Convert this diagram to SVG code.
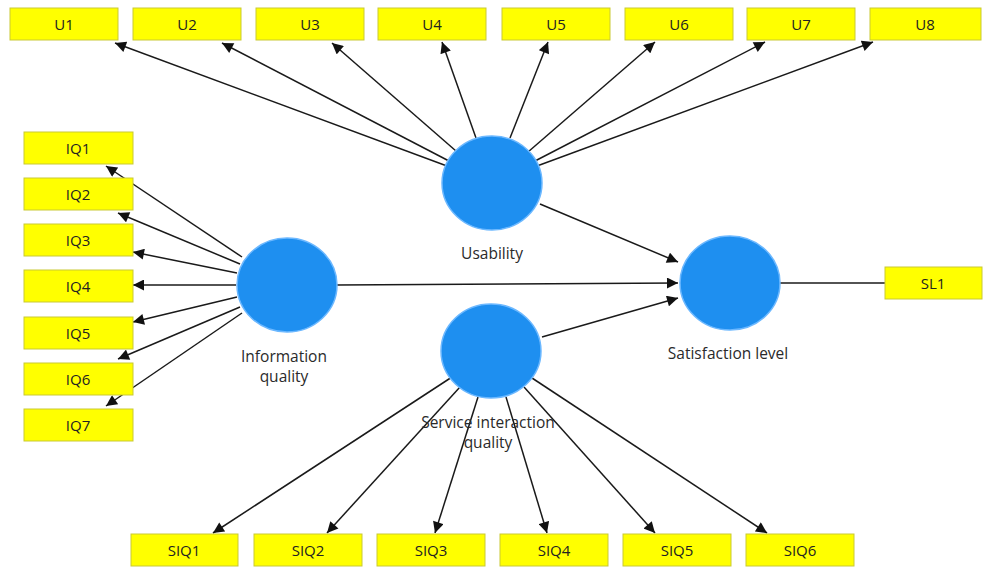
<svg xmlns="http://www.w3.org/2000/svg" width="984" height="568" viewBox="0 0 984 568">
<style>
.box{fill:#ffff00;stroke:#c9c934;stroke-width:1}
.bt{font-family:"Open Sans","Noto Sans",sans-serif;font-size:15px;fill:#222;text-anchor:middle}
.lv{fill:#1e8ff0;stroke:#6cb8ff;stroke-width:1.5}
.lt{font-family:"Open Sans","Noto Sans",sans-serif;font-size:15.5px;fill:#2a2a2a;text-anchor:middle}
.c{stroke:#1a1a1a;stroke-width:1.5;fill:none}
.a{marker-end:url(#ah)}
</style>
<defs>
<marker id="ah" viewBox="0 0 10 10" refX="10" refY="5" markerWidth="12" markerHeight="11" markerUnits="userSpaceOnUse" orient="auto">
<path d="M0,0 L10,5 L0,10 z" fill="#111"/>
</marker>
</defs>
<rect width="984" height="568" fill="#fff"/>
<g id="connectors">
<line class="c a" x1="447" y1="166" x2="115" y2="43"/>
<line class="c a" x1="449" y1="161" x2="222" y2="43"/>
<line class="c a" x1="456" y1="151" x2="332" y2="43"/>
<line class="c a" x1="476" y1="138" x2="442" y2="42"/>
<line class="c a" x1="510" y1="138" x2="548" y2="42"/>
<line class="c a" x1="528" y1="152" x2="655" y2="42"/>
<line class="c a" x1="535" y1="161" x2="765" y2="42"/>
<line class="c a" x1="537" y1="166" x2="873" y2="42"/>
<line class="c a" x1="242" y1="257" x2="106" y2="166"/>
<line class="c a" x1="240" y1="264" x2="118" y2="213"/>
<line class="c a" x1="237" y1="273" x2="133" y2="252"/>
<line class="c a" x1="236" y1="285" x2="133" y2="285"/>
<line class="c a" x1="237" y1="297" x2="133" y2="322"/>
<line class="c a" x1="240" y1="307" x2="118" y2="359"/>
<line class="c a" x1="242" y1="313" x2="106" y2="406"/>
<line class="c a" x1="452" y1="377" x2="213" y2="533"/>
<line class="c a" x1="460" y1="387" x2="327" y2="533"/>
<line class="c a" x1="478" y1="397" x2="435" y2="533"/>
<line class="c a" x1="506" y1="397" x2="547" y2="533"/>
<line class="c a" x1="524" y1="387" x2="655" y2="533"/>
<line class="c a" x1="532" y1="378" x2="767" y2="533"/>
<line class="c a" x1="540" y1="204" x2="678" y2="262"/>
<line class="c a" x1="337" y1="285" x2="678" y2="283"/>
<line class="c a" x1="542" y1="337" x2="678" y2="298"/>
<line class="c" x1="780" y1="283" x2="885" y2="283"/>
</g>
<g id="U1"><rect class="box" x="10" y="8" width="108" height="32"/><text class="bt" x="64" y="29.5">U1</text></g>
<g id="U2"><rect class="box" x="133" y="8" width="108" height="32"/><text class="bt" x="187" y="29.5">U2</text></g>
<g id="U3"><rect class="box" x="256" y="8" width="108" height="32"/><text class="bt" x="310" y="29.5">U3</text></g>
<g id="U4"><rect class="box" x="378" y="8" width="108" height="32"/><text class="bt" x="432" y="29.5">U4</text></g>
<g id="U5"><rect class="box" x="502" y="8" width="108" height="32"/><text class="bt" x="556" y="29.5">U5</text></g>
<g id="U6"><rect class="box" x="625" y="8" width="108" height="32"/><text class="bt" x="679" y="29.5">U6</text></g>
<g id="U7"><rect class="box" x="747" y="8" width="108" height="32"/><text class="bt" x="801" y="29.5">U7</text></g>
<g id="U8"><rect class="box" x="870" y="8" width="111" height="32"/><text class="bt" x="925" y="29.5">U8</text></g>
<g id="IQ1"><rect class="box" x="24" y="132" width="109" height="32"/><text class="bt" x="78" y="153.5">IQ1</text></g>
<g id="IQ2"><rect class="box" x="24" y="178" width="109" height="32"/><text class="bt" x="78" y="199.5">IQ2</text></g>
<g id="IQ3"><rect class="box" x="24" y="224" width="109" height="32"/><text class="bt" x="78" y="245.5">IQ3</text></g>
<g id="IQ4"><rect class="box" x="24" y="270" width="109" height="32"/><text class="bt" x="78" y="291.5">IQ4</text></g>
<g id="IQ5"><rect class="box" x="24" y="317" width="109" height="32"/><text class="bt" x="78" y="338.5">IQ5</text></g>
<g id="IQ6"><rect class="box" x="24" y="363" width="109" height="32"/><text class="bt" x="78" y="384.5">IQ6</text></g>
<g id="IQ7"><rect class="box" x="24" y="409" width="109" height="32"/><text class="bt" x="78" y="430.5">IQ7</text></g>
<g id="SIQ1"><rect class="box" x="131" y="534" width="107" height="32"/><text class="bt" x="184" y="555.5">SIQ1</text></g>
<g id="SIQ2"><rect class="box" x="254" y="534" width="108" height="32"/><text class="bt" x="308" y="555.5">SIQ2</text></g>
<g id="SIQ3"><rect class="box" x="377" y="534" width="108" height="32"/><text class="bt" x="431" y="555.5">SIQ3</text></g>
<g id="SIQ4"><rect class="box" x="500" y="534" width="108" height="32"/><text class="bt" x="554" y="555.5">SIQ4</text></g>
<g id="SIQ5"><rect class="box" x="623" y="534" width="108" height="32"/><text class="bt" x="677" y="555.5">SIQ5</text></g>
<g id="SIQ6"><rect class="box" x="746" y="534" width="108" height="32"/><text class="bt" x="800" y="555.5">SIQ6</text></g>
<g id="SL1"><rect class="box" x="885" y="267" width="97" height="32"/><text class="bt" x="933" y="288.5">SL1</text></g>
<g id="Usability"><ellipse class="lv" cx="492" cy="183" rx="50" ry="47"/><text class="lt" x="492" y="259">Usability</text></g>
<g id="InformationQuality"><ellipse class="lv" cx="287" cy="285" rx="50" ry="47"/><text class="lt" x="284" y="362">Information</text><text class="lt" x="284" y="382">quality</text></g>
<g id="ServiceInteractionQuality"><ellipse class="lv" cx="491" cy="351" rx="50" ry="47"/><text class="lt" x="488" y="428">Service interaction</text><text class="lt" x="488" y="448">quality</text></g>
<g id="SatisfactionLevel"><ellipse class="lv" cx="730" cy="283" rx="50" ry="47"/><text class="lt" x="728" y="359">Satisfaction level</text></g>
</svg>
